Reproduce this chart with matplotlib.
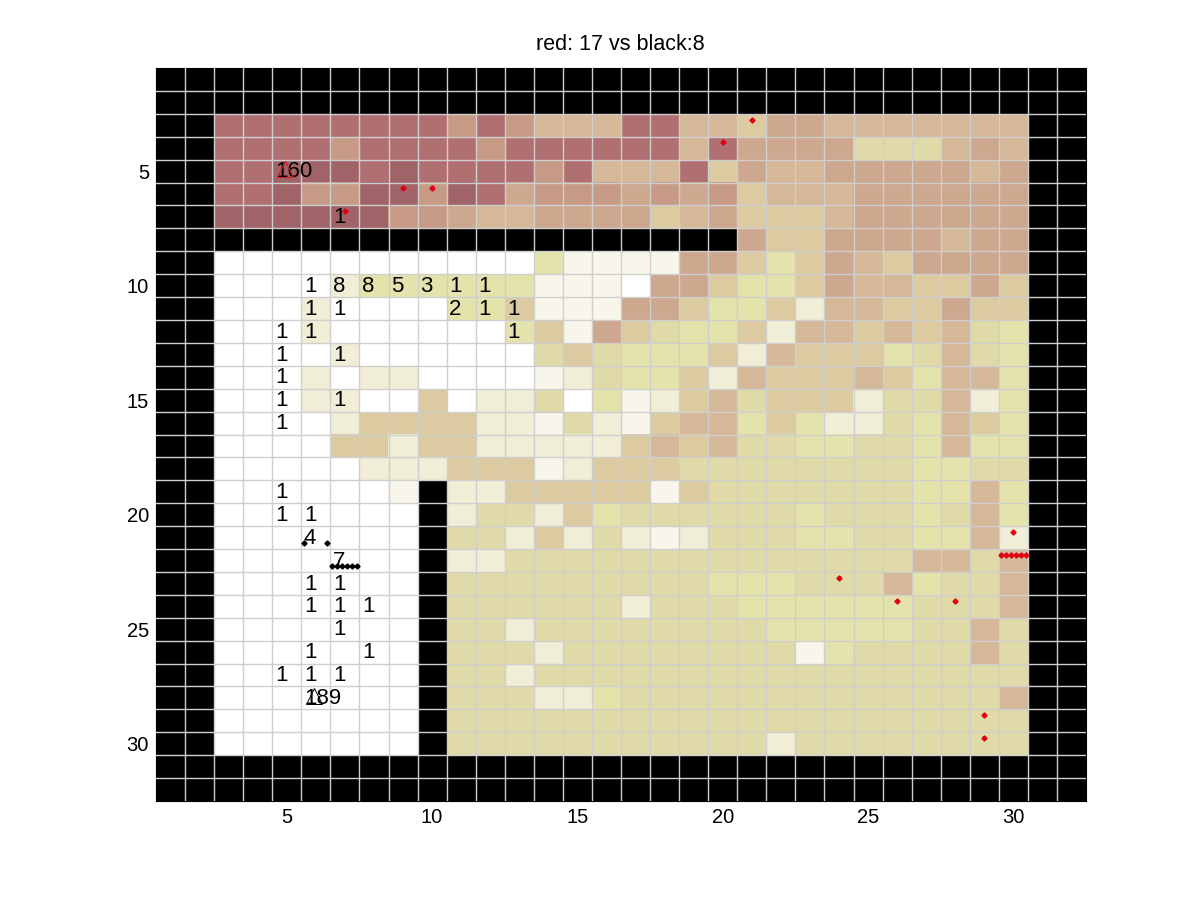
import numpy as np
import matplotlib
matplotlib.use('Agg')
import matplotlib.pyplot as plt
from matplotlib.colors import ListedColormap, BoundaryNorm

plt.rcParams['font.family'] = ['Liberation Sans', 'DejaVu Sans']

# shade level per cell, rows 3..30, columns 3..30 ('#' = black wall, a = level 10)
inner_rows = [
    '99999999' '8' '9' '8' '666' '99' '66' '5' '77' '6666666',
    '9999' '8' '9999' '8' '999999' '6' '9' '7777' '444' '6' '7' '6',
    '99' 'aaa' '9' 'a' '999' '9' '8' '9' '666' '9' '5' '7' '66' '7' '7777' '6' '7',
    '99' 'a' '88' 'a' 'a' '8' 'a' '9' '7' '888' '7' '8' '7' '8' '5' '666' '777777',
    'aaaaaa' '88' '7' '66' '7777' '5' '6' '7' '555' '6' '777777',
    '##################' '7' '55' '7777' '6' '77',
    '00000000000' '3' '1111' '77' '5' '3' '5' '7' '6' '5' '7777',
    '0000' '2' '333333' '111' '0' '77' '5' '33' '5' '7' '66' '55' '7' '5',
    '000' '2' '0000' '33' '5' '111' '77' '5' '33' '5' '2' '66' '55' '7' '55',
    '000' '2' '000000' '3' '5' '1' '7' '5' '4' '33' '5' '2' '66' '5' '6' '5' '6' '4' '3',
    '0000' '2' '000000' '4' '5' '4' '333' '5' '2' '6' '555' '3' '4' '6' '4' '3',
    '000' '2' '0' '22' '0000' '1' '2' '4' '33' '5' '2' '6' '555' '6' '5' '3' '6' '6' '3',
    '000' '2' '2' '00' '5' '0' '22' '4' '0' '3' '1' '2' '5' '6' '4' '555' '2' '44' '6' '2' '3',
    '0000' '2' '5555' '22' '1' '4' '2' '1' '5' '66' '3' '5' '3' '22' '4' '3' '6' '5' '3',
    '0000' '55' '2' '55' '22222' '5' '6' '5' '6' '4' '4' '33' '44' '3' '6' '33',
    '00000' '222' '555' '1' '2' '5' '55' '44444444' '33' '44',
    '000000' '1' '#' '22' '55555' '1' '5' '4444444' '33' '6' '3',
    '0000000' '#' '2' '44' '2' '5' '3' '444444' '3' '444' '3' '4' '6' '3',
    '0000000' '#' '44' '2' '5' '2' '4' '2' '1' '2' '444' '33' '44' '33' '6' '2',
    '0000000' '#' '22' '44444444444444' '66' '4' '6',
    '0000000' '#' '444444444' '333' '444' '6' '3' '44' '6',
    '0000000' '#' '444444' '2' '444' '33333' '3' '444' '6',
    '0000000' '#' '44' '2' '44444444' '33333' '44' '6' '4',
    '0000000' '#' '444' '2' '44444444' '1' '3' '4444' '6' '4',
    '0000000' '#' '44' '2' '44444444444444444',
    '0000000' '#' '444' '22' '3' '4444444444444' '6',
    '0000000' '#' '44444444444444444444',
    '0000000' '#' '44444444444' '2' '44444444',
]
shade_colors = ['#ffffff', '#f8f6ea', '#f0eed6', '#e5e3ac', '#e0daa8', '#dccba0',
                '#d5b898', '#cda78e', '#c69a85', '#b07072', '#a06468']

# (column, row, text)
count_labels = [
    (5, 5, '160'), (7, 7, '1'),
    (6, 10, '1'), (7, 10, '8'), (8, 10, '8'), (9, 10, '5'), (10, 10, '3'), (11, 10, '1'), (12, 10, '1'),
    (6, 11, '1'), (7, 11, '1'), (11, 11, '2'), (12, 11, '1'), (13, 11, '1'),
    (5, 12, '1'), (6, 12, '1'), (13, 12, '1'),
    (5, 13, '1'), (7, 13, '1'), (5, 14, '1'), (5, 15, '1'), (7, 15, '1'), (5, 16, '1'),
    (5, 19, '1'), (5, 20, '1'), (6, 20, '1'), (6, 21, '4'), (7, 22, '7'),
    (6, 23, '1'), (7, 23, '1'), (6, 24, '1'), (7, 24, '1'), (8, 24, '1'),
    (7, 25, '1'), (6, 26, '1'), (8, 26, '1'),
    (5, 27, '1'), (6, 27, '1'), (7, 27, '1'), (6, 28, '189'),
]
red_x = [21.0, 20.0, 9.0, 10.0, 7.0, 30.0, 29.57, 29.74, 29.91, 30.08, 30.25, 30.42,
         24.0, 26.0, 28.0, 29.0, 29.0]
red_y = [2.75, 3.75, 5.75, 5.75, 6.75, 20.75, 21.75, 21.75, 21.75, 21.75, 21.75, 21.75,
         22.75, 23.75, 23.75, 28.75, 29.75]
black_x = [5.6, 6.39, 6.56, 6.73, 6.90, 7.07, 7.24, 7.41]
black_y = [21.25, 21.25, 22.25, 22.25, 22.25, 22.25, 22.25, 22.25]
tri_red = (4.93, 4.9)
tri_black = (5.93, 27.9)
ticks = [5, 10, 15, 20, 25, 30]
title = 'red: 17 vs black:8'

N = 32
grid = np.full((N, N), np.nan)
for r, row in enumerate(inner_rows):
    assert len(row) == 28, (r + 3, len(row))
    for c, ch in enumerate(row):
        if ch != '#':
            grid[r + 2, c + 2] = 10 if ch == 'a' else int(ch)

fig = plt.figure(figsize=(12, 9), dpi=100)
ax = fig.add_axes([156 / 1200, 1 - 801 / 900, 930 / 1200, 733 / 900])
cmap = ListedColormap(shade_colors)
cmap.set_bad('black')
norm = BoundaryNorm(np.arange(-0.5, 11.5), cmap.N)
ax.imshow(np.ma.masked_invalid(grid), cmap=cmap, norm=norm, aspect='auto',
          interpolation='nearest', extent=(0.5, N + 0.5, N + 0.5, 0.5))

edges = np.arange(1.5, N, 1.0)
ax.set_xticks(edges, minor=True)
ax.set_yticks(edges, minor=True)
ax.grid(which='minor', color='#cfcfcf', lw=1.0)
ax.set_axisbelow(False)
ax.tick_params(which='minor', length=0)
ax.set_xticks(ticks)
ax.set_yticks(ticks)
ax.tick_params(which='major', length=0, labelsize=14.5, pad=5)
for s in ax.spines.values():
    s.set_color('black')

for c, r, t in count_labels:
    ax.text(c - 0.41, r + 0.03, t, fontsize=16, ha='left', va='center', color='black', zorder=6)

ax.plot(black_x, black_y, ls='none', marker='D', ms=2.6, color='black', zorder=7)
ax.plot(red_x, red_y, ls='none', marker='D', ms=2.6, color='#e00010', zorder=7)
ax.plot(*tri_red, ls='none', marker='^', ms=12, mfc='none', mec='#d02020', mew=0.8, zorder=7)
ax.plot(*tri_black, ls='none', marker='^', ms=12, mfc='none', mec='black', mew=0.7, zorder=7)

ax.set_xlim(0.5, N + 0.5)
ax.set_ylim(N + 0.5, 0.5)
fig.text(620 / 1200, 1 - 45 / 900, title, ha='center', va='center', fontsize=15.5)
fig.savefig('out.png', dpi=100)
